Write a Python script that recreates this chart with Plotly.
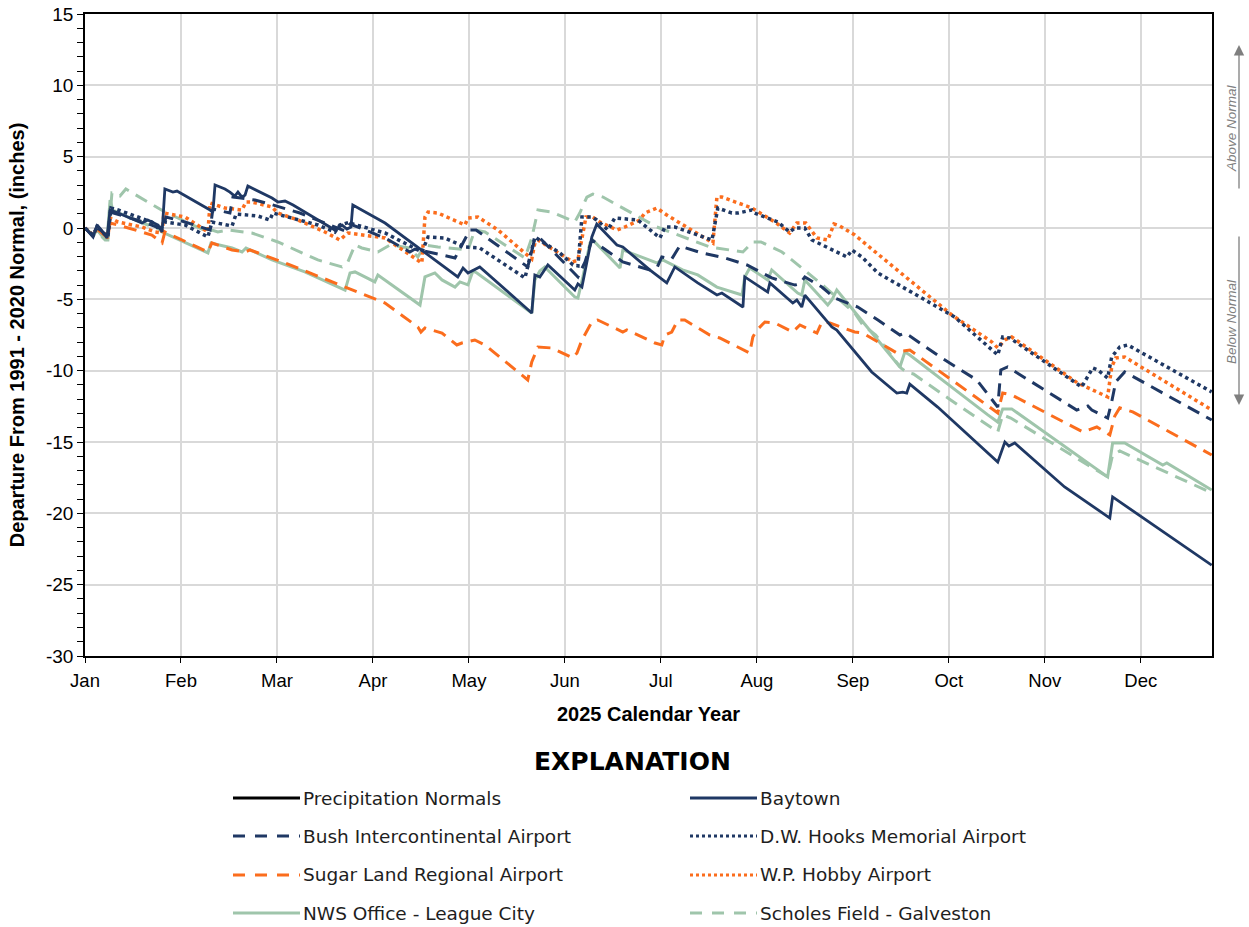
import plotly.graph_objects as go
import pandas as pd

# ---------------- data (day offset from Jan 1 2025, departure in inches) ----------------
month_labels = ["Jan", "Feb", "Mar", "Apr", "May", "Jun", "Jul", "Aug", "Sep", "Oct", "Nov", "Dec"]
tick_days = [0, 31, 62, 93, 124, 155, 186, 217, 248, 279, 310, 341]
y_tick_vals = [15, 10, 5, 0, -5, -10, -15, -20, -25, -30]
y_tick_text = ["15", "10", "5", "0", "-5", "-10", "-15", "-20", "-25", "-30"]

baytown_d = [0, 2.6, 3.9, 5.8, 7.1, 8.1, 10.7, 14.5, 18.4, 20.3, 23.6, 24.9, 25.8, 28.4, 29.7, 40.4, 41.3, 42.0, 45.2, 46.8,
             48.4, 49.4, 50.7, 51.7, 52.6, 60.4, 62.3, 64.6, 67.2, 80.7, 83.0, 84.6, 85.9, 86.5, 96.9, 120.4, 122.1, 123.7, 127.5, 144.3,
             145.3, 146.9, 149.5, 158.2, 159.2, 160.5, 163.7, 165.3, 167.9, 170.2, 171.8, 173.7, 182.4, 187.9, 190.5, 197.9, 204.1, 205.7, 212.5, 213.1,
             220.5, 221.2, 228.6, 229.9, 231.5, 232.5, 241.2, 242.8, 254.1, 262.2, 264.1, 265.4, 266.4, 275.4, 294.8, 297.1, 298.4, 300.3, 316.4, 331.0,
             331.9, 363.9]
baytown_v = [0, -0.63, 0.21, -0.28, -0.70, 1.26, 1.05, 0.70, 0.35, 0.56, 0.21, -0.28, 2.73, 2.52, 2.59, 1.26, 1.12, 3.01, 2.73, 2.52,
             2.24, 2.52, 2.17, 2.31, 2.94, 2.10, 1.82, 1.89, 1.61, -0.14, 0.21, -0.07, 0.07, 1.61, 0.35, -3.43, -2.80, -3.15, -2.73, -5.96,
             -3.29, -3.43, -2.59, -4.35, -3.92, -4.14, -0.63, 0.28, -0.28, -0.84, -1.19, -1.33, -2.94, -3.85, -2.73, -3.85, -4.70, -4.56, -5.54, -3.43,
             -4.49, -3.85, -5.26, -5.05, -5.54, -4.70, -6.94, -7.15, -10.09, -11.57, -11.50, -11.57, -10.94, -12.55, -16.41, -15.0, -15.28, -15.07, -18.15, -20.33,
             -18.85, -23.63]

bush_d = [0, 2.6, 3.9, 6.8, 7.4, 8.1, 17.8, 24.9, 26.2, 32.3, 40.4, 41.3, 46.8, 47.8, 54.9, 59.7, 69.4, 84.0, 85.6, 96.9,
          104.9, 106.6, 119.5, 124.3, 126.3, 143.0, 145.3, 146.9, 159.2, 161.5, 163.7, 173.7, 182.4, 184.7, 186.3, 189.5, 192.1, 199.2, 206.7, 213.8,
          221.8, 229.3, 230.9, 232.5, 238.0, 242.2, 249.6, 256.1, 263.2, 264.8, 266.4, 276.7, 288.0, 294.8, 295.8, 298.0, 320.3, 323.9, 325.2, 330.3,
          331.6, 332.9, 335.8, 363.9]
bush_v = [0, -0.56, 0.14, -0.56, -0.70, 1.12, 0.49, -0.07, 0.77, 0.42, -0.14, 1.33, 1.05, 2.17, 1.96, 1.68, 1.05, -0.21, 0.28, -0.70,
          -1.68, -1.47, -2.10, -0.14, -0.14, -2.73, -0.70, -0.70, -3.43, -2.38, -0.84, -2.38, -2.94, -2.80, -2.03, -2.17, -1.26, -1.75, -2.10, -2.59,
          -3.50, -4.0, -3.92, -3.43, -4.14, -4.91, -5.54, -6.45, -7.50, -7.36, -7.57, -9.11, -10.65, -12.55, -9.95, -9.74, -12.76, -12.48, -12.76, -13.32,
          -12.19, -10.79, -10.09, -13.46]

hooks_d = [0, 2.6, 3.9, 6.8, 7.4, 8.4, 10.7, 21.6, 24.2, 25.8, 32.3, 39.7, 41.0, 47.5, 48.8, 55.9, 59.7, 60.7, 75.2, 80.7,
           82.3, 85.6, 86.5, 96.9, 108.8, 110.8, 116.2, 122.7, 127.5, 142.1, 145.3, 153.4, 157.6, 159.2, 160.5, 163.7, 165.3, 168.9, 171.1, 178.6,
           185.7, 187.3, 190.5, 202.5, 203.4, 204.4, 208.9, 210.9, 215.4, 216.3, 223.8, 227.6, 229.3, 232.5, 234.8, 239.9, 246.1, 247.7, 250.9, 256.1,
           280.9, 294.8, 296.4, 298.7, 320.6, 321.9, 325.5, 327.1, 330.3, 331.6, 334.2, 336.8, 363.9]
hooks_v = [0, -0.49, 0.07, -0.49, -0.63, 1.40, 1.26, 0.42, -0.14, 0.42, 0.21, -0.63, 0.42, 0.14, 0.98, 0.84, 0.56, 1.05, 0.21, -0.28,
           0.21, 0.42, 0.28, -0.35, -1.68, -0.63, -0.70, -1.33, -1.40, -3.50, -0.63, -1.75, -2.59, -2.66, 0.77, 0.77, 0.56, -0.14, 0.70, 0.56,
           -0.70, 0.07, 0.07, -0.84, 0.35, 1.40, 1.05, 1.05, 1.26, 1.05, 0.42, -0.28, 0.0, 0.0, -0.84, -1.40, -2.03, -1.54, -2.03, -3.15,
           -6.24, -8.90, -7.64, -7.71, -11.0, -11.14, -9.81, -9.95, -10.51, -9.04, -8.34, -8.20, -11.49]

sugar_d = [0, 2.6, 3.9, 6.8, 7.4, 8.1, 10.7, 21.6, 24.9, 25.8, 39.7, 41.0, 47.5, 51.7, 53.3, 64.6, 96.9, 107.5, 108.5, 109.8,
           115.3, 120.1, 121.7, 125.9, 129.2, 143.0, 144.3, 146.3, 150.8, 157.6, 158.9, 160.5, 163.7, 165.6, 171.1, 173.7, 175.0, 184.1, 186.3, 187.3,
           189.5, 191.5, 193.7, 201.8, 205.0, 212.5, 214.7, 215.7, 217.0, 219.6, 222.8, 228.6, 230.9, 236.4, 238.0, 240.6, 248.6, 251.2, 262.2, 264.1,
           266.4, 294.8, 296.4, 299.3, 322.3, 326.8, 331.0, 332.6, 334.2, 338.4, 363.9]
sugar_v = [0, -0.56, -0.07, -0.56, -0.70, 0.35, 0.21, -0.49, -1.05, -0.28, -1.68, -1.05, -1.54, -1.68, -1.54, -2.45, -5.26, -6.94, -7.29, -7.01,
           -7.36, -8.20, -8.06, -7.85, -8.20, -10.65, -9.39, -8.34, -8.41, -9.11, -8.76, -7.85, -6.59, -6.45, -7.01, -7.29, -7.15, -8.06, -8.20, -7.50,
           -7.29, -6.45, -6.45, -7.50, -7.71, -8.55, -8.76, -7.64, -7.15, -6.59, -6.66, -7.29, -6.80, -7.36, -6.59, -6.66, -7.29, -7.36, -8.76, -8.62,
           -8.55, -12.96, -11.56, -11.70, -14.30, -13.95, -14.51, -13.18, -12.61, -12.89, -15.91]

hobby_d = [0, 2.6, 3.9, 6.8, 7.4, 8.1, 10.7, 18.4, 22.6, 24.9, 25.5, 32.3, 39.7, 40.4, 45.2, 50.7, 52.0, 53.9, 60.4, 62.3,
           68.8, 77.5, 82.3, 84.9, 90.4, 96.9, 108.8, 109.8, 110.8, 114.0, 122.7, 123.7, 126.9, 133.4, 144.3, 145.3, 146.3, 152.7, 157.6, 159.2,
           160.5, 161.8, 164.0, 166.3, 171.8, 174.4, 179.2, 180.8, 184.7, 187.9, 202.8, 204.1, 205.7, 213.1, 215.4, 222.8, 227.6, 229.9, 232.8, 236.4,
           239.9, 241.9, 243.8, 248.6, 280.0, 292.9, 294.8, 297.1, 299.3, 320.6, 330.3, 331.6, 332.9, 335.8, 363.9]
hobby_v = [0, -0.49, 0.0, -0.42, -0.56, 0.70, 0.42, 0.07, -0.28, -0.35, 1.05, 0.77, -0.28, 1.75, 1.40, 1.26, 1.82, 1.82, 1.47, 1.05,
           0.56, -0.28, -0.84, -0.35, -0.49, -0.70, -2.45, 0.77, 1.12, 1.05, 0.21, 0.70, 0.77, -0.14, -2.17, -1.05, -0.84, -1.68, -2.38, -2.24,
           -0.63, 0.77, 0.77, 0.42, -0.14, 0.07, 0.56, 1.05, 1.40, 0.91, -1.05, 2.17, 2.17, 1.61, 1.40, 0.42, -0.35, 0.35, 0.35, -0.70,
           -0.84, 0.28, 0.14, -0.49, -6.10, -7.99, -8.41, -7.85, -7.64, -10.86, -11.84, -9.74, -9.11, -9.04, -12.75]

league_d = [0, 2.6, 3.9, 5.5, 7.1, 8.1, 9.0, 13.9, 20.3, 21.6, 24.9, 39.7, 40.7, 47.5, 50.7, 52.0, 60.4, 71.0, 84.0, 85.6,
            87.2, 93.6, 94.6, 108.2, 109.8, 113.0, 115.3, 119.5, 121.1, 123.7, 125.3, 126.6, 144.3, 145.3, 146.9, 148.5, 158.2, 159.2, 160.8, 163.1,
            164.0, 172.8, 173.7, 184.7, 186.6, 193.0, 197.9, 204.1, 212.2, 213.1, 214.7, 220.5, 221.8, 230.2, 231.5, 232.5, 239.9, 241.2, 242.8, 263.2,
            264.8, 266.4, 291.6, 294.8, 296.4, 299.3, 330.3, 331.9, 335.8, 348.1, 349.4, 363.9]
league_v = [0, -0.56, -0.14, -0.56, -0.84, 1.96, 1.26, 0.77, 0.21, 0.35, -0.28, -1.75, -1.05, -1.40, -1.68, -1.40, -2.24, -3.08, -4.35, -3.15,
            -3.08, -3.78, -3.29, -5.40, -3.43, -3.15, -3.64, -4.14, -3.78, -3.99, -3.01, -3.15, -5.96, -3.64, -3.01, -2.73, -4.84, -4.91, -3.43, -1.05,
            -0.84, -2.80, -1.54, -2.45, -2.24, -2.94, -3.29, -4.14, -4.70, -3.43, -2.80, -3.64, -2.94, -4.56, -4.70, -3.64, -5.40, -5.05, -4.35, -9.74,
            -8.69, -8.90, -13.10, -13.60, -12.68, -12.68, -17.45, -15.07, -15.07, -16.61, -16.47, -18.36]

scholes_d = [0, 2.6, 4.2, 6.5, 7.4, 8.7, 11.3, 13.2, 23.6, 25.8, 30.0, 39.7, 41.0, 42.9, 46.2, 53.9, 62.3, 75.2, 83.0, 84.9,
             87.2, 89.4, 94.6, 98.5, 104.9, 107.5, 109.8, 114.0, 123.7, 125.9, 129.2, 142.1, 144.3, 146.3, 150.8, 158.2, 159.8, 162.1, 164.0, 167.3,
             176.6, 184.7, 187.3, 197.9, 201.8, 212.5, 214.1, 215.7, 218.3, 225.1, 231.5, 239.0, 248.6, 251.2, 255.4, 263.5, 265.7, 267.6, 279.6, 294.8,
             296.4, 299.0, 330.3, 331.9, 334.2, 363.9]
scholes_v = [0, -0.49, -0.35, -0.84, -0.84, 2.45, 2.24, 2.73, 1.40, 1.12, 0.70, -0.28, -0.14, -0.28, -0.14, -0.35, -0.98, -2.24, -2.73, -2.38,
             -1.19, -1.40, -1.68, -1.19, -1.40, -2.03, -1.19, -1.33, -1.54, -0.14, -0.28, -2.10, -0.70, 1.26, 1.12, 0.42, 1.05, 2.17, 2.38, 2.17,
             1.05, 0.07, -0.14, -0.98, -1.33, -1.68, -1.33, -0.98, -0.98, -1.68, -2.80, -4.14, -5.96, -6.80, -7.50, -9.81, -10.16, -10.23, -12.05, -14.30,
             -13.10, -13.32, -17.45, -15.91, -15.63, -18.57]

# ---------------- styles ----------------
NAVY = "#1f3864"
ORANGE = "#fb6d1d"
GREEN = "#9fc5ab"
DASH = "13px,8px"

series = [
    # name, days, values, color, width, dash
    ("NWS Office - League City", league_d, league_v, GREEN, 3, "solid"),
    ("Scholes Field - Galveston", scholes_d, scholes_v, GREEN, 3, DASH),
    ("Sugar Land Regional Airport", sugar_d, sugar_v, ORANGE, 3, DASH),
    ("W.P. Hobby Airport", hobby_d, hobby_v, ORANGE, 3.5, "dot"),
    ("D.W. Hooks Memorial Airport", hooks_d, hooks_v, NAVY, 3.5, "dot"),
    ("Bush Intercontinental Airport", bush_d, bush_v, NAVY, 3, DASH),
    ("Baytown", baytown_d, baytown_v, NAVY, 2.8, "solid"),
]

base = pd.Timestamp("2025-01-01")


def to_dates(days):
    return [base + pd.Timedelta(days=d) for d in days]


fig = go.Figure()
for name, d, v, color, width, dash in series:
    fig.add_trace(go.Scatter(x=to_dates(d), y=v, mode="lines", name=name,
                             line=dict(color=color, width=width, dash=dash),
                             showlegend=False, hoverinfo="x+y+name"))

AX_FONT = "Liberation Sans, Arial, sans-serif"
LEG_FONT = "DejaVu Sans, sans-serif"

fig.update_xaxes(
    type="date",
    range=[base, base + pd.Timedelta(days=364)],
    tickvals=to_dates(tick_days), ticktext=month_labels,
    ticks="outside", ticklen=5, tickcolor="black", tickwidth=1,
    ticklabelstandoff=2,
    showgrid=True, gridcolor="#d9d9d9", gridwidth=1.5,
    showline=True, linecolor="black", linewidth=1.5, mirror=True,
    zeroline=False, automargin=False,
    tickfont=dict(family=AX_FONT, size=18.5, color="black"),
    title=dict(text="<b>2025 Calendar Year</b>", font=dict(family=AX_FONT, size=20, color="black"), standoff=17),
)
fig.update_yaxes(
    range=[-30, 15], tickvals=y_tick_vals, ticktext=y_tick_text,
    ticks="outside", ticklen=6, tickcolor="black", tickwidth=1,
    minor=dict(dtick=1, tick0=0, ticks="outside", ticklen=6, tickcolor="black", showgrid=False),
    showgrid=True, gridcolor="#d9d9d9", gridwidth=1.5,
    showline=True, linecolor="black", linewidth=1.5, mirror=True,
    zeroline=False, automargin=False,
    tickfont=dict(family=AX_FONT, size=19, color="black"),
    title=dict(text="<b>Departure From 1991 - 2020 Normal, (inches)</b>", font=dict(family=AX_FONT, size=20, color="black"), standoff=16),
)

# ---------------- layout geometry helpers (pixels -> paper) ----------------
W, H = 1249, 927
L, R, T, B = 85, 1212, 14, 656


def px(x):
    return (x - L) / (R - L)


def py(y):
    return (B - y) / (B - T)


annotations = []
shapes = []

# Explanation (legend) built from the series styles
legend_title = "EXPLANATION"
legend_rows = [
    [("Precipitation Normals", "black", 3, "solid"), ("Baytown", NAVY, 3, "solid")],
    [("Bush Intercontinental Airport", NAVY, 3, "dash"), ("D.W. Hooks Memorial Airport", NAVY, 3, "dot")],
    [("Sugar Land Regional Airport", ORANGE, 3, "dash"), ("W.P. Hobby Airport", ORANGE, 3, "dot")],
    [("NWS Office - League City", GREEN, 3, "solid"), ("Scholes Field - Galveston", GREEN, 3, "dash")],
]
row_y = [798, 836, 875, 913]
col_x = [(233, 300), (690, 757)]
legend_dash = {"solid": "solid", "dash": "12px,10px", "dot": "3px,3px"}

annotations.append(dict(text="<b>" + legend_title + "</b>", x=px(632), y=py(762), xref="paper", yref="paper",
                        showarrow=False, xanchor="center", yanchor="middle",
                        font=dict(family="DejaVu Sans, sans-serif", size=25, color="black")))
for r, row in enumerate(legend_rows):
    for c, (label, color, width, dash) in enumerate(row):
        x0, x1 = col_x[c]
        shapes.append(dict(type="line", xref="paper", yref="paper", x0=px(x0), x1=px(x1), y0=py(row_y[r]), y1=py(row_y[r]),
                           line=dict(color=color, width=width, dash=legend_dash[dash])))
        annotations.append(dict(text=label, x=px(x1 + 1), y=py(row_y[r]), xref="paper", yref="paper", showarrow=False,
                                xanchor="left", yanchor="middle", font=dict(family=LEG_FONT, size=18.5, color="#1e1e1e")))

# Above / Below normal indicators
GREY = "#7f7f7f"
annotations.append(dict(text="<i>Above Normal</i>", x=px(1231), y=py(128), xref="paper", yref="paper", showarrow=False,
                        xanchor="center", yanchor="middle",
                        textangle=-90, font=dict(family=AX_FONT, size=13.5, color=GREY)))
annotations.append(dict(text="<i>Below Normal</i>", x=px(1231), y=py(322), xref="paper", yref="paper", showarrow=False,
                        xanchor="center", yanchor="middle",
                        textangle=-90, font=dict(family=AX_FONT, size=13.5, color=GREY)))
annotations.append(dict(text="", x=px(1239), y=py(45), xref="paper", yref="paper", showarrow=True,
                        ax=0, ay=145, arrowhead=2, arrowsize=1.6, arrowwidth=1.3, arrowcolor=GREY))
annotations.append(dict(text="", x=px(1239), y=py(405), xref="paper", yref="paper", showarrow=True,
                        ax=0, ay=-170, arrowhead=2, arrowsize=1.6, arrowwidth=1.3, arrowcolor=GREY))

fig.update_layout(
    width=W, height=H,
    margin=dict(l=L, r=W - R, t=T, b=H - B),
    paper_bgcolor="white", plot_bgcolor="white",
    showlegend=False,
    annotations=annotations,
    shapes=shapes,
)

fig.write_html("out.html", config={"displayModeBar": False},
               post_script="document.body.style.margin='0';document.body.style.overflow='hidden';")
